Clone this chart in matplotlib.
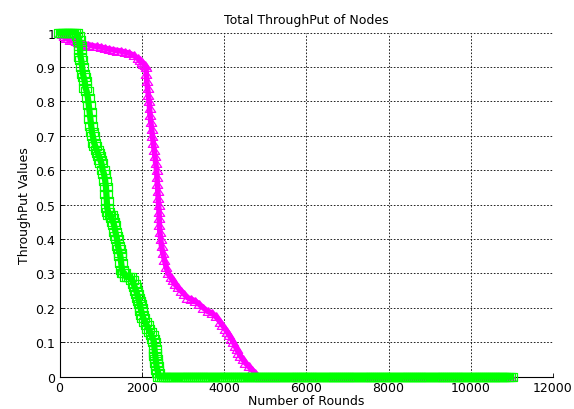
import numpy as np
import matplotlib
matplotlib.use('Agg')
import matplotlib.pyplot as plt

plt.rcParams['font.family'] = ['DejaVu Sans']

# green squares - first protocol (rounds, throughput)
green_rounds = [0, 50, 100, 150, 200, 250, 300, 350, 400, 450, 480, 490, 500, 510, 530, 550, 570, 590,
                610, 630, 660, 690, 710, 730, 750, 770, 790, 810, 840, 870, 900, 930, 960, 990, 1020,
                1050, 1080, 1110, 1130, 1140, 1150, 1160, 1180, 1200, 1240, 1270, 1300, 1330, 1360,
                1380, 1400, 1420, 1440, 1460, 1480, 1500, 1520, 1540, 1580, 1620, 1670, 1720, 1770,
                1800, 1830, 1860, 1890, 1910, 1930, 1950, 1970, 1990, 2010, 2040, 2080, 2120, 2160,
                2200, 2240, 2270, 2300, 2310, 2320, 2330, 2340, 2350, 2360, 2380, 2400, 2420]
green_vals = [1.00, 1.00, 1.00, 1.00, 1.00, 1.00, 1.00, 1.00, 1.00, 0.99, 0.98, 0.96, 0.95, 0.93, 0.92,
              0.90, 0.88, 0.87, 0.86, 0.84, 0.83, 0.81, 0.79, 0.77, 0.75, 0.73, 0.71, 0.70, 0.68, 0.67,
              0.66, 0.65, 0.64, 0.63, 0.62, 0.60, 0.59, 0.57, 0.55, 0.53, 0.51, 0.49, 0.48, 0.47, 0.47,
              0.46, 0.45, 0.44, 0.42, 0.41, 0.40, 0.38, 0.37, 0.36, 0.35, 0.33, 0.31, 0.30, 0.30, 0.29,
              0.29, 0.29, 0.28, 0.27, 0.26, 0.25, 0.24, 0.23, 0.22, 0.21, 0.20, 0.19, 0.18, 0.17, 0.16,
              0.15, 0.14, 0.13, 0.12, 0.11, 0.10, 0.08, 0.07, 0.06, 0.05, 0.04, 0.03, 0.02, 0.01, 0.00]

# magenta triangles - second protocol
mag_rounds = [0, 50, 100, 150, 200, 250, 300, 350, 400, 450, 500, 600, 700, 800, 900, 1000, 1100, 1200,
              1300, 1400, 1500, 1600, 1700, 1800, 1900, 1950, 2000, 2040, 2070, 2100, 2110, 2120, 2140,
              2160, 2180, 2190, 2200, 2220, 2240, 2260, 2280, 2300, 2320, 2340, 2360, 2370, 2380, 2390,
              2400, 2410, 2420, 2425, 2430, 2440, 2460, 2480, 2510, 2550, 2590, 2640, 2700, 2750, 2800,
              2870, 2950, 3030, 3110, 3200, 3300, 3400, 3500, 3600, 3700, 3800, 3900, 3960, 4020, 4080,
              4130, 4180, 4230, 4270, 4310, 4350, 4400, 4460, 4520, 4600, 4680, 4760, 4840]
mag_vals = [1.00, 0.995, 0.99, 0.985, 0.985, 0.98, 0.98, 0.978, 0.975, 0.973, 0.97, 0.968, 0.965, 0.962,
            0.96, 0.958, 0.955, 0.952, 0.95, 0.948, 0.946, 0.943, 0.94, 0.934, 0.925, 0.92, 0.915, 0.91,
            0.905, 0.90, 0.88, 0.86, 0.84, 0.82, 0.80, 0.78, 0.76, 0.74, 0.72, 0.70, 0.68, 0.66, 0.64,
            0.62, 0.60, 0.58, 0.56, 0.54, 0.52, 0.50, 0.48, 0.46, 0.44, 0.42, 0.40, 0.38, 0.36, 0.34,
            0.32, 0.30, 0.29, 0.28, 0.27, 0.26, 0.25, 0.24, 0.23, 0.225, 0.22, 0.21, 0.20, 0.19, 0.185,
            0.175, 0.16, 0.15, 0.14, 0.13, 0.12, 0.11, 0.10, 0.09, 0.08, 0.07, 0.06, 0.05, 0.04, 0.03,
            0.02, 0.01, 0.00]

last_round = 11000
tail_step = 50

# after all nodes are dead the throughput stays at zero till the last round
g_tail = np.arange(green_rounds[-1] + tail_step, last_round + 1, tail_step)
m_tail = np.arange(mag_rounds[-1] + tail_step, last_round + 1, tail_step)
gx = np.concatenate([green_rounds, g_tail])
gy = np.concatenate([green_vals, np.zeros(len(g_tail))])
mx = np.concatenate([mag_rounds, m_tail])
my = np.concatenate([mag_vals, np.zeros(len(m_tail))])

# the original picture is stretched sideways, so the markers are a bit wider than tall
wide_sq = [(-1.35, -1), (1.35, -1), (1.35, 1), (-1.35, 1), (-1.35, -1)]
wide_tri = [(0, 1), (-1.35, -1), (1.35, -1), (0, 1)]

fig = plt.figure(figsize=(5.74, 4.10), dpi=100)
ax = fig.add_axes([0.1037, 0.0788, 0.8597, 0.8392])

# markers overlap so much that the curves read as thick bands
ax.plot(mx, my, color='#ff00ff', lw=4, solid_joinstyle='round', marker=wide_tri, ms=7.5,
        mfc='none', mew=0.9, clip_on=False, zorder=3)
ax.plot(gx, gy, color='#00ff00', lw=4.5, solid_joinstyle='round', marker=wide_sq, ms=8,
        mfc='none', mew=0.9, clip_on=False, zorder=4)

ax.set_xlim(0, 12000)
ax.set_ylim(0, 1)
ax.set_xticks(np.arange(0, 12001, 2000))
ax.set_yticks(np.arange(0, 1.01, 0.1))
ax.set_yticklabels(['0', '0.1', '0.2', '0.3', '0.4', '0.5', '0.6', '0.7', '0.8', '0.9', '1'])
ax.grid(True, color='black', linestyle=(0, (2, 2)), lw=0.6)
ax.set_axisbelow(True)
ax.tick_params(direction='in', labelsize=9, length=3, width=0.6, pad=3)
ax.spines['top'].set_visible(False)
ax.spines['right'].set_visible(False)
for s in ('left', 'bottom'):
    ax.spines[s].set_linewidth(0.8)

ax.set_title('Total ThroughPut of Nodes', fontsize=9, pad=7)
ax.set_xlabel('Number of Rounds', fontsize=9, labelpad=0)
ax.set_ylabel('ThroughPut Values', fontsize=9, labelpad=3)

fig.savefig('out.png', dpi=100)
